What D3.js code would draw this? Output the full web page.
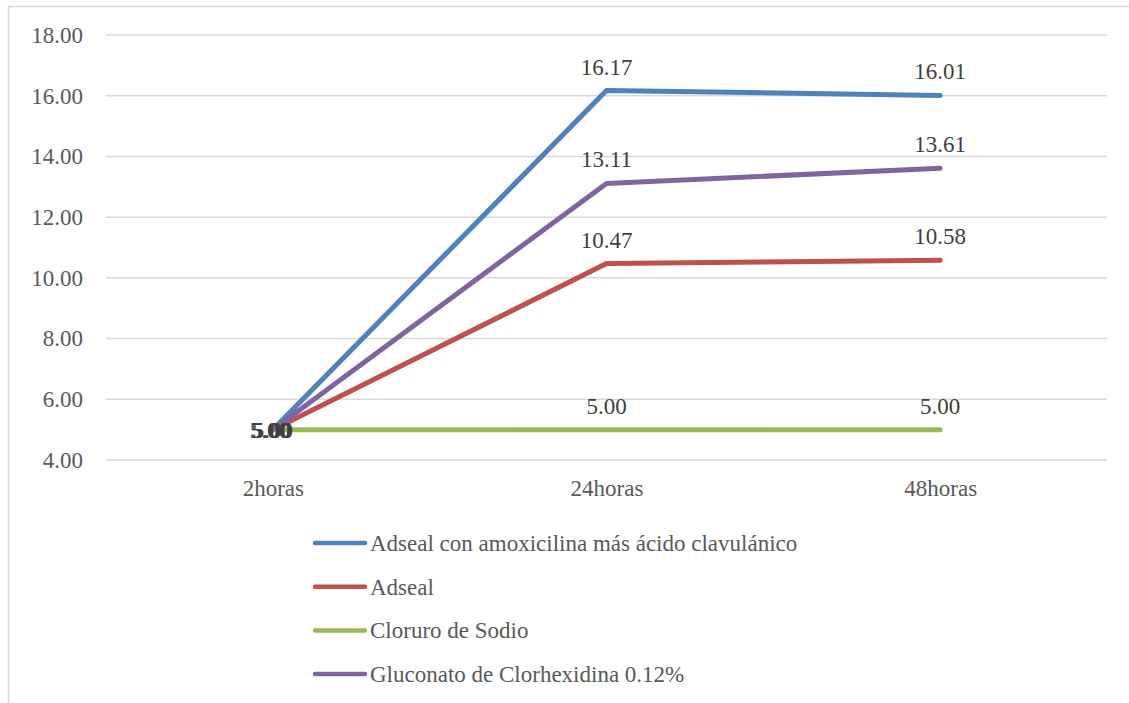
<!DOCTYPE html>
<html>
<head>
<meta charset="utf-8">
<script src="https://cdn.jsdelivr.net/npm/d3@7"></script>
<style>
  body { margin: 0; background: #fff; }
</style>
</head>
<body>
<svg id="chart"></svg>
<script>
// categories and series
const categories = ["2horas", "24horas", "48horas"];
const seriesNames = [
  "Adseal con amoxicilina más ácido clavulánico",
  "Adseal",
  "Cloruro de Sodio",
  "Gluconato de Clorhexidina 0.12%"
];
const adsealAmox = [5.00, 16.17, 16.01];
const adseal = [5.00, 10.47, 10.58];
const cloruro = [5.00, 5.00, 5.00];
const clorhexidina = [5.00, 13.11, 13.61];
const yTicks = [4, 6, 8, 10, 12, 14, 16, 18];
const colors = ["#4F81BD", "#C0504D", "#9BBB59", "#8064A2"];

const series = [adsealAmox, adseal, cloruro, clorhexidina].map((values, i) => ({
  name: seriesNames[i], values: values, color: colors[i]
}));

const FONT = "'Liberation Serif', 'Times New Roman', serif";

const width = 1129, height = 703;
const margin = { top: 35, right: 22, bottom: 243, left: 106 };
const innerWidth = width - margin.left - margin.right;
const innerHeight = height - margin.top - margin.bottom;

const svg = d3.select("#chart").attr("width", width).attr("height", height)
  .attr("font-family", FONT);

// chart frame
svg.append("rect")
  .attr("x", 8.5).attr("y", 6.5)
  .attr("width", 1140).attr("height", 720)
  .attr("fill", "none").attr("stroke", "#d9d9d9").attr("stroke-width", 1.5);

const g = svg.append("g").attr("transform", `translate(${margin.left},${margin.top})`);

const x = d3.scalePoint().domain(categories).range([0, innerWidth]).padding(0.5);
const y = d3.scaleLinear().domain([4, 18]).range([innerHeight, 0]);

// gridlines
g.selectAll(".grid").data(yTicks).enter().append("line")
  .attr("x1", 0).attr("x2", innerWidth)
  .attr("y1", d => y(d)).attr("y2", d => y(d))
  .attr("stroke", "#d9d9d9").attr("stroke-width", 1.5);

// y axis
const yAxis = g.append("g")
  .call(d3.axisLeft(y).tickValues(yTicks).tickFormat(d3.format(".2f")).tickSize(0).tickPadding(23))
  .attr("font-family", FONT);
yAxis.select(".domain").remove();
yAxis.selectAll("text").attr("font-size", 23).attr("fill", "#595959");

// x axis
const xAxis = g.append("g").attr("transform", `translate(0,${innerHeight})`)
  .call(d3.axisBottom(x).tickSize(0).tickPadding(20))
  .attr("font-family", FONT);
xAxis.select(".domain").remove();
xAxis.selectAll("text").attr("font-size", 23).attr("fill", "#595959");

// lines
const line = d3.line().x((d, i) => x(categories[i])).y(d => y(d));
g.selectAll(".series").data(series).enter().append("path")
  .attr("d", d => line(d.values))
  .attr("fill", "none")
  .attr("stroke", d => d.color)
  .attr("stroke-width", 5)
  .attr("stroke-linecap", "round")
  .attr("stroke-linejoin", "round");

// data labels
series.forEach((s, si) => {
  s.values.forEach((v, i) => {
    const first = i === 0;
    g.append("text")
      .attr("x", x(categories[i]) + (first ? -3 + si : 0))
      .attr("y", first ? y(v) + 8 : y(v) - 16)
      .attr("text-anchor", "middle")
      .attr("font-size", 23)
      .attr("fill", "#404040")
      .text(d3.format(".2f")(v));
  });
});

// legend
const legend = svg.append("g").attr("transform", "translate(315,543)");
series.forEach((s, i) => {
  const row = legend.append("g").attr("transform", `translate(0,${i * 43.7})`);
  row.append("line").attr("x1", 0).attr("x2", 50).attr("y1", 0).attr("y2", 0)
    .attr("stroke", s.color).attr("stroke-width", 4.5).attr("stroke-linecap", "round");
  row.append("text").attr("x", 55).attr("y", 8)
    .attr("font-size", 23).attr("fill", "#595959").text(s.name);
});
</script>
</body>
</html>
